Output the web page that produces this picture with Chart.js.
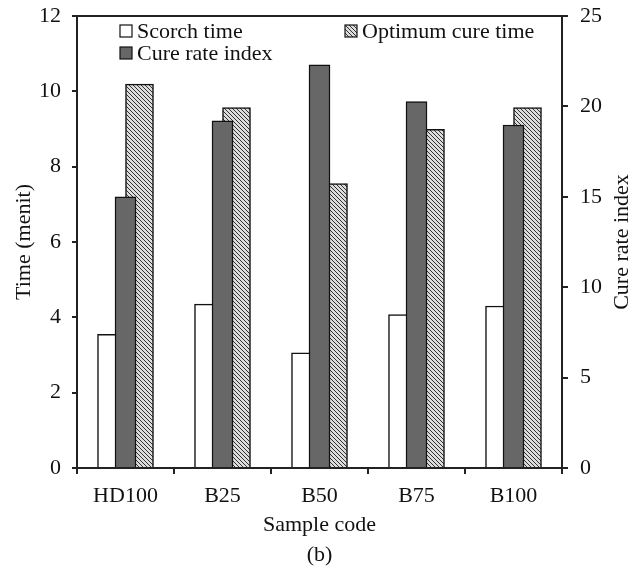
<!DOCTYPE html>
<html>
<head>
<meta charset="utf-8">
<script src="https://cdn.jsdelivr.net/npm/chart.js@4.4.1/dist/chart.umd.min.js"></script>
<style>
    html, body { margin: 0; padding: 0; background: #fff; }
</style>
</head>
<body>
<canvas id="cureChart" width="638" height="568"></canvas>
<script>
// Data
const sampleCodes = ['HD100', 'B25', 'B50', 'B75', 'B100'];
const scorchTime = [3.55, 4.35, 3.06, 4.07, 4.30];
const optimumCureTime = [10.19, 9.57, 7.55, 8.99, 9.57];
const cureRateIndex = [15.0, 19.2, 22.3, 20.26, 18.97];
const timeTicks = [0, 2, 4, 6, 8, 10, 12];
const cureRateTicks = [0, 5, 10, 15, 20, 25];

const serif = "'Liberation Serif', 'Times New Roman', serif";
const fontSize = 22;
const axisColor = '#222';
const darkFill = '#676767';

// diagonal hatch for the optimum cure time bars
function makeHatch() {
    const c = document.createElement('canvas');
    c.width = 4;
    c.height = 4;
    const g = c.getContext('2d');
    g.fillStyle = '#dcdcdc';
    g.fillRect(0, 0, 4, 4);
    g.strokeStyle = '#333';
    g.lineWidth = 1;
    g.beginPath();
    g.moveTo(0, 0); g.lineTo(4, 4);
    g.moveTo(-2, 2); g.lineTo(2, 6);
    g.moveTo(2, -2); g.lineTo(6, 2);
    g.stroke();
    return g.createPattern(c, 'repeat');
}
const hatch = makeHatch();

const extrasPlugin = {
    id: 'extras',
    afterDatasetsDraw(chart) {
        const { ctx, chartArea: a } = chart;
        ctx.save();
        ctx.strokeStyle = axisColor;
        ctx.lineWidth = 2;
        ctx.beginPath();
        ctx.moveTo(a.left, a.top);
        ctx.lineTo(a.right, a.top);
        ctx.stroke();
        ctx.restore();
    },
    afterDraw(chart) {
        const { ctx, chartArea: a } = chart;
        ctx.save();
        // legend
        const items = [
            { text: 'Scorch time', fill: '#fff', x: a.left + 43, y: a.top + 15 },
            { text: 'Cure rate index', fill: darkFill, x: a.left + 43, y: a.top + 37 },
            { text: 'Optimum cure time', fill: hatch, x: a.left + 268, y: a.top + 15 }
        ];
        ctx.font = fontSize + 'px ' + serif;
        ctx.textBaseline = 'middle';
        ctx.textAlign = 'left';
        items.forEach(it => {
            ctx.fillStyle = it.fill;
            ctx.fillRect(it.x, it.y - 6, 12, 12);
            ctx.strokeStyle = '#111';
            ctx.lineWidth = 1.2;
            ctx.strokeRect(it.x, it.y - 6, 12, 12);
            ctx.fillStyle = '#111';
            ctx.fillText(it.text, it.x + 17, it.y + 1);
        });
        // right axis title, reading bottom to top
        ctx.translate(622, (a.top + a.bottom) / 2);
        ctx.rotate(-Math.PI / 2);
        ctx.textAlign = 'center';
        ctx.fillText('Cure rate index', 0, 0);
        ctx.restore();
    }
};

function renderChart() {
    const ctx = document.getElementById('cureChart').getContext('2d');
    new Chart(ctx, {
        type: 'bar',
        data: {
            labels: sampleCodes,
            datasets: [
                {
                    label: 'Scorch time',
                    data: scorchTime,
                    yAxisID: 'y',
                    backgroundColor: '#fff',
                    borderColor: '#111',
                    borderWidth: 1.5,
                    barThickness: 28,
                    order: 1,
                },
                {
                    label: 'Cure rate index',
                    data: cureRateIndex,
                    yAxisID: 'y1',
                    backgroundColor: darkFill,
                    borderColor: '#111',
                    borderWidth: 1.5,
                    barThickness: 21,
                    grouped: false,
                    order: 0,
                },
                {
                    label: 'Optimum cure time',
                    data: optimumCureTime,
                    yAxisID: 'y',
                    backgroundColor: hatch,
                    borderColor: '#111',
                    borderWidth: 1.5,
                    barThickness: 28,
                    order: 2,
                },
            ],
        },
        options: {
            responsive: false,
            animation: false,
            layout: { padding: { top: 16, left: 0, right: 0, bottom: 0 } },
            plugins: {
                legend: { display: false },
                tooltip: { enabled: false },
            },
            scales: {
                x: {
                    grid: {
                        drawOnChartArea: false,
                        color: axisColor,
                        lineWidth: 2,
                        tickLength: 6,
                    },
                    border: { color: axisColor, width: 2 },
                    ticks: {
                        color: '#111',
                        padding: 9,
                        font: { family: serif, size: fontSize },
                    },
                    title: {
                        display: true,
                        text: ['Sample code', '(b)'],
                        color: '#111',
                        padding: { top: 0, bottom: -2 },
                        font: { family: serif, size: fontSize, lineHeight: 1.36 },
                    },
                    afterFit: scale => { scale.height = 100; },
                },
                y: {
                    position: 'left',
                    min: timeTicks[0],
                    max: timeTicks[timeTicks.length - 1],
                    afterBuildTicks: scale => {
                        scale.ticks = timeTicks.map(v => ({ value: v }));
                    },
                    grid: {
                        drawOnChartArea: false,
                        color: axisColor,
                        lineWidth: 2,
                        tickLength: 5,
                    },
                    border: { color: axisColor, width: 2 },
                    ticks: {
                        color: '#111',
                        padding: 11,
                        font: { family: serif, size: fontSize },
                    },
                    title: {
                        display: true,
                        text: 'Time (menit)',
                        color: '#111',
                        padding: { top: 11, bottom: 0 },
                        font: { family: serif, size: fontSize },
                    },
                    afterFit: scale => {
                        scale.width = 77;
                        scale.paddingTop = 0;
                        scale.paddingBottom = 0;
                    },
                },
                y1: {
                    position: 'right',
                    min: cureRateTicks[0],
                    max: cureRateTicks[cureRateTicks.length - 1],
                    afterBuildTicks: scale => {
                        scale.ticks = cureRateTicks.map(v => ({ value: v }));
                    },
                    grid: {
                        drawOnChartArea: false,
                        color: axisColor,
                        lineWidth: 2,
                        tickLength: 6,
                    },
                    border: { color: axisColor, width: 2 },
                    ticks: {
                        color: '#111',
                        padding: 12,
                        font: { family: serif, size: fontSize },
                    },
                    afterFit: scale => {
                        scale.width = 76;
                        scale.paddingTop = 0;
                        scale.paddingBottom = 0;
                    },
                },
            },
        },
        plugins: [extrasPlugin],
    });
}

renderChart();
</script>
</body>
</html>
